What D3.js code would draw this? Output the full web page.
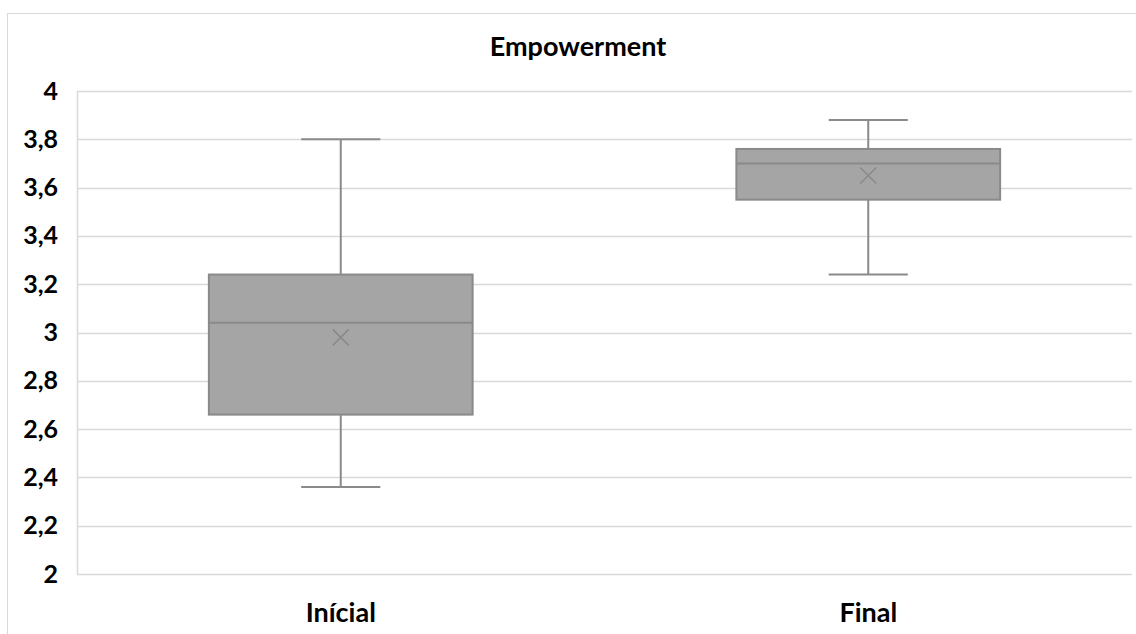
<!DOCTYPE html>
<html>
<head>
<meta charset="utf-8">
<script src="https://cdn.jsdelivr.net/npm/d3@7"></script>
<style>
  html, body { margin: 0; padding: 0; background: #fff; }
  svg { display: block; }
  text { font-family: Lato, "Open Sans", sans-serif; font-weight: bold; fill: #000; }
</style>
</head>
<body>
<svg id="chart" width="1136" height="634"></svg>
<script>
const categories = ["Inícial", "Final"];
const whiskerLow = [2.36, 3.24];
const q1 = [2.66, 3.55];
const median = [3.04, 3.70];
const q3 = [3.24, 3.76];
const whiskerHigh = [3.80, 3.88];
const mean = [2.98, 3.65];
const yTicks = [2, 2.2, 2.4, 2.6, 2.8, 3, 3.2, 3.4, 3.6, 3.8, 4];
const title = "Empowerment";

const W = 1136, H = 634;
const plot = { left: 77, right: 1132, top: 91, bottom: 574 };
const svg = d3.select("#chart");

// chart border
svg.append("rect").attr("x", 7.5).attr("y", 13.5).attr("width", W).attr("height", H)
  .attr("fill", "none").attr("stroke", "#d9d9d9").attr("stroke-width", 1);

const x = d3.scaleBand().domain(categories).range([plot.left, plot.right]).paddingInner(0).paddingOuter(0);
const y = d3.scaleLinear().domain([2, 4]).range([plot.bottom, plot.top]);
const fmt = d => d3.format("")(d).replace(".", ",");

// grid
svg.append("g").selectAll("line").data(yTicks).join("line")
  .attr("x1", plot.left).attr("x2", plot.right)
  .attr("y1", d => Math.round(y(d)) + 0.5).attr("y2", d => Math.round(y(d)) + 0.5)
  .attr("stroke", "#d9d9d9").attr("stroke-width", 1.5);
svg.append("line").attr("x1", plot.left + 0.5).attr("x2", plot.left + 0.5)
  .attr("y1", plot.top).attr("y2", plot.bottom)
  .attr("stroke", "#d9d9d9").attr("stroke-width", 1.5);

// y axis labels
const yAxis = d3.axisLeft(y).tickValues(yTicks).tickFormat(fmt).tickSize(0).tickPadding(19);
const gy = svg.append("g").attr("transform", `translate(${plot.left},0)`).call(yAxis);
gy.select(".domain").remove();
gy.selectAll("text").style("font-size", "25px").attr("fill", "#000")
  .style("font-family", "Lato, 'Open Sans', sans-serif").style("font-weight", "bold");

// x axis labels
const xAxis = d3.axisBottom(x).tickSize(0).tickPadding(29);
const gx = svg.append("g").attr("transform", `translate(0,${plot.bottom})`).call(xAxis);
gx.select(".domain").remove();
gx.selectAll("text").style("font-size", "27px").attr("fill", "#000")
  .style("font-family", "Lato, 'Open Sans', sans-serif").style("font-weight", "bold");

// title
svg.append("text").attr("x", 578).attr("y", 56).attr("text-anchor", "middle")
  .style("font-size", "27px").text(title);

// boxes
const boxW = x.bandwidth() * 0.5;
const stroke = "#8a8a8a";
const g = svg.append("g");
categories.forEach((c, i) => {
  const cx = x(c) + x.bandwidth() / 2;
  const capW = boxW * 0.3;
  // whiskers
  g.append("line").attr("x1", cx).attr("x2", cx).attr("y1", y(whiskerHigh[i])).attr("y2", y(q3[i]))
    .attr("stroke", stroke).attr("stroke-width", 2);
  g.append("line").attr("x1", cx).attr("x2", cx).attr("y1", y(q1[i])).attr("y2", y(whiskerLow[i]))
    .attr("stroke", stroke).attr("stroke-width", 2);
  g.append("line").attr("x1", cx - capW / 2).attr("x2", cx + capW / 2)
    .attr("y1", y(whiskerHigh[i])).attr("y2", y(whiskerHigh[i])).attr("stroke", stroke).attr("stroke-width", 2);
  g.append("line").attr("x1", cx - capW / 2).attr("x2", cx + capW / 2)
    .attr("y1", y(whiskerLow[i])).attr("y2", y(whiskerLow[i])).attr("stroke", stroke).attr("stroke-width", 2);
  // box
  g.append("rect").attr("x", cx - boxW / 2).attr("y", y(q3[i]))
    .attr("width", boxW).attr("height", y(q1[i]) - y(q3[i]))
    .attr("fill", "#a5a5a5").attr("stroke", stroke).attr("stroke-width", 2);
  // median
  g.append("line").attr("x1", cx - boxW / 2).attr("x2", cx + boxW / 2)
    .attr("y1", y(median[i])).attr("y2", y(median[i])).attr("stroke", stroke).attr("stroke-width", 2);
  // mean marker
  const my = y(mean[i]), s = 8;
  g.append("path").attr("d", `M${cx - s},${my - s}L${cx + s},${my + s}M${cx - s},${my + s}L${cx + s},${my - s}`)
    .attr("stroke", stroke).attr("stroke-width", 1.6).attr("fill", "none");
});
</script>
</body>
</html>
